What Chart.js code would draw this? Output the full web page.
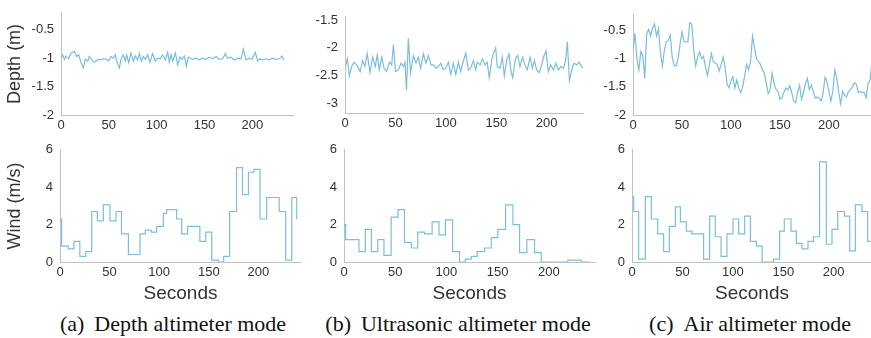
<!DOCTYPE html>
<html>
<head>
<meta charset="utf-8">
<script src="https://cdn.jsdelivr.net/npm/chart.js@4.4.0/dist/chart.umd.min.js"></script>
<style>
  body { margin: 0; width: 871px; height: 338px; background: #fff; position: relative; overflow: hidden; }
  .panel { position: absolute; }
  .panel canvas { display: block; }
  .cap { position: absolute; top: 312px; line-height: 24px; transform: translateX(-50%); white-space: nowrap;
         font-family: "Liberation Serif", "Times New Roman", serif; font-size: 22px; color: #111; }
  .cap b { font-weight: normal; margin-right: 10px; }
</style>
</head>
<body>
<div class="cap" style="left:173px"><b>(a)</b>Depth altimeter mode</div>
<div class="cap" style="left:458px"><b>(b)</b>Ultrasonic altimeter mode</div>
<div class="cap" style="left:750px"><b>(c)</b>Air altimeter mode</div>
<script>
// tick labels
const X_TICKS = [0, 50, 100, 150, 200];
const DEPTH_TICKS_A = [-2, -1.5, -1, -0.5];
const DEPTH_TICKS_B = [-3, -2.5, -2, -1.5];
const DEPTH_TICKS_C = [-2, -1.5, -1, -0.5];
const WIND_TICKS = [0, 2, 4, 6];

// (a) depth altimeter mode: depth (m)
const depthA_t = [0, 1.7, 3.5, 5.2, 8, 10.5, 14, 16.4, 18.5, 21, 23.3, 25.4, 27.9, 29.6, 32.4, 34.8, 38.3, 41.8, 45.3, 47.7,
  49.8, 52.3, 54.7, 56.8, 59.2, 61, 62.7, 65, 67.2, 68.6, 70.7, 73.2, 75.6, 77.7, 80.1, 81.9, 84, 86, 88.2, 90.6,
  93, 95.8, 98.6, 101, 103.5, 106.3, 109, 111.5, 113.2, 115, 116.7, 119.5, 122, 124.4, 126.5, 129, 131, 133, 135.5, 137.6,
  141, 144.6, 148, 151.6, 155, 158.5, 162, 165.5, 169, 171.8, 174.2, 177.7, 181.2, 184.7, 188.2, 190.5, 193.4, 196.2, 199.6, 203.1,
  205.6, 208, 210.8, 214.3, 217.8, 221.3, 224.7, 228.2, 231, 232.8];
const depthA_v = [-1.0, -0.94, -1.02, -0.96, -1.01, -0.91, -0.88, -0.97, -0.94, -1.08, -1.17, -1.02, -1.05, -0.97, -1.03, -1.07, -1.03, -1.02, -1.01, -1.02,
  -1.05, -0.97, -1.0, -0.94, -1.1, -1.17, -1.02, -0.94, -1.05, -0.94, -1.08, -0.91, -1.05, -0.96, -1.03, -0.91, -1.05, -0.97, -1.02, -0.94,
  -1.07, -0.92, -1.05, -1.0, -1.01, -0.94, -1.03, -0.9, -1.07, -0.94, -1.05, -0.91, -1.12, -0.98, -1.02, -0.96, -1.14, -0.98, -1.0, -1.02,
  -1.0, -1.03, -1.0, -1.02, -0.98, -1.01, -0.97, -1.02, -1.01, -0.92, -1.0, -0.98, -1.03, -1.0, -1.01, -0.84, -1.03, -1.0, -1.02, -0.9,
  -1.05, -1.01, -1.03, -1.01, -1.03, -1.0, -1.02, -1.01, -0.96, -1.03];

// (b) ultrasonic altimeter mode: depth (m)
const depthB_t = [0, 2.3, 4.3, 6.6, 9, 11.6, 15, 17.5, 19.8, 22, 24.8, 27.4, 30, 32, 34, 36.4, 38.7, 41.3, 44, 46.3,
  48, 50, 53, 55.5, 58, 59.5, 61, 62.8, 65, 67.8, 70.4, 72.7, 75, 77.7, 80.3, 82.6, 85.3, 87.6, 90.2, 92.6,
  95, 97.5, 99.8, 102.5, 104.8, 107.4, 109.8, 112.4, 114.7, 116.7, 119.7, 122.3, 124.6, 127.3, 129.6, 131.2, 134, 136.2, 138.8, 141,
  143, 145.5, 147, 149.4, 151, 153.7, 156, 158, 160.3, 162.6, 164.6, 166.3, 169, 171.2, 173.5, 176, 178.5, 180.8, 183.5, 185.8,
  187.8, 190, 192.7, 195, 197.4, 199.3, 201.7, 204, 206.6, 209, 211.6, 213.9, 216.5, 218.8, 220.5, 222.5, 224.8, 227, 229.8, 232,
  234.7, 236.4];
const depthB_v = [-2.37, -2.2, -2.51, -2.34, -2.26, -2.31, -2.43, -2.23, -2.34, -2.1, -2.45, -2.17, -2.34, -2.13, -2.4, -2.17, -2.37, -2.43, -2.26, -2.31,
  -1.94, -2.43, -2.4, -2.28, -2.34, -2.26, -2.77, -1.83, -2.45, -2.14, -2.28, -2.17, -2.37, -2.11, -2.28, -2.14, -2.31, -2.31, -2.37, -2.34,
  -2.28, -2.4, -2.37, -2.26, -2.48, -2.28, -2.48, -2.26, -2.43, -2.28, -2.1, -2.4, -2.37, -2.23, -2.4, -2.26, -2.31, -2.2, -2.31, -2.26,
  -2.54, -2.23, -2.11, -2.0, -2.34, -2.37, -2.17, -2.51, -2.23, -2.11, -2.43, -2.54, -2.2, -2.14, -2.34, -2.17, -2.31, -2.4, -2.17, -2.37,
  -2.23, -2.4, -2.45, -2.31, -2.14, -2.06, -2.43, -2.31, -2.4, -2.28, -2.4, -2.34, -2.37, -2.23, -1.89, -2.6, -2.4, -2.28, -2.31, -2.26,
  -2.34, -2.37];

// (c) air altimeter mode: depth (m), one reading every 2 s
const DEPTH_C_STEP = 2;
const depthC_v = [-0.85, -0.55, -1.0, -1.2, -0.87, -0.95, -1.35, -0.55, -0.48, -0.6, -0.45, -0.38, -0.6, -0.47, -0.9, -1.13, -0.85, -0.7, -0.68, -0.58,
  -0.97, -1.12, -1.13, -1.0, -0.75, -0.52, -0.69, -0.7, -0.7, -0.36, -0.38, -0.85, -1.13, -0.97, -0.88, -1.0, -0.96, -1.15, -1.3, -1.1,
  -0.91, -1.05, -1.08, -1.1, -1.22, -1.1, -0.97, -1.15, -1.45, -1.52, -1.4, -1.32, -1.52, -1.38, -1.52, -1.6, -1.5, -1.3, -1.1, -1.2,
  -1.05, -0.6, -0.8, -1.0, -1.05, -1.1, -1.19, -1.25, -1.43, -1.62, -1.55, -1.26, -1.45, -1.54, -1.58, -1.72, -1.7, -1.6, -1.52, -1.55,
  -1.48, -1.6, -1.75, -1.78, -1.6, -1.47, -1.72, -1.6, -1.45, -1.35, -1.55, -1.47, -1.58, -1.7, -1.68, -1.7, -1.75, -1.62, -1.33, -1.41,
  -1.58, -1.75, -1.58, -1.2, -1.35, -1.6, -1.8, -1.58, -1.65, -1.68, -1.58, -1.55, -1.5, -1.43, -1.45, -1.6, -1.58, -1.6, -1.6, -1.69,
  -1.44, -1.38, -1.02];

// wind (m/s), step start times and levels
const windA_t = [0, 1.7, 8.4, 14, 20, 26, 32, 37.6, 43.7, 50.4, 56.5, 62, 69, 80.7, 86, 92, 97.5, 104.2, 107.6, 117.6,
  122.7, 128.7, 141, 147, 153, 159.7, 165, 171, 178, 184, 190, 195.6, 201.7, 208.4, 221, 227.6, 233.7, 238.7];
const windA_v = [2.3, 0.85, 0.7, 1.1, 0.3, 0.55, 2.7, 2.2, 3.05, 2.2, 2.7, 1.5, 0.4, 1.5, 1.7, 1.6, 1.9, 2.6, 2.8, 2.3,
  1.5, 1.9, 1.1, 1.6, 0.1, 0.0, 0.3, 2.7, 5.05, 3.6, 4.8, 4.95, 2.3, 3.45, 2.7, 0.1, 3.45, 2.3];

const windB_t = [0, 1.6, 14.6, 20.8, 26.7, 33, 39, 46, 52.7, 59, 65.7, 72, 78.7, 86, 92.7, 99, 106, 112.8, 118.4, 124.2,
  130, 137.2, 143.7, 150.2, 157.7, 164.9, 171.4, 178.5, 186, 192.5, 218.5, 231.5, 240];
const windB_v = [2.0, 1.2, 0.55, 1.75, 0.55, 1.2, 0.35, 2.4, 2.8, 1.05, 0.75, 1.6, 1.5, 2.15, 1.45, 2.25, 0.55, 0.0, 0.15, 0.3,
  0.55, 0.75, 1.3, 1.75, 3.05, 2.0, 0.5, 1.2, 0.5, 0.0, 0.1, 0.0, 0.0];

const windC_t = [0, 1.7, 6.6, 13.2, 19.2, 25.5, 31.4, 37, 43, 48, 53.9, 59.5, 71, 77, 82.6, 88.3, 94.2, 100.2, 105.8, 111.7,
  117.4, 123.3, 129, 140.5, 146.4, 151, 157.7, 163, 168.6, 174.5, 180, 186, 192.7, 198.3, 204, 210.6, 215.9, 221.5, 228, 233.7, 238];
const windC_v = [3.5, 2.7, 0.15, 3.5, 2.3, 1.5, 0.55, 1.9, 2.95, 2.15, 1.65, 1.5, 0.15, 2.45, 1.35, 0.3, 1.5, 2.3, 1.5, 2.45,
  1.1, 0.85, 0.0, 0.15, 1.65, 2.3, 1.65, 1.0, 0.7, 1.1, 1.35, 5.35, 0.95, 1.75, 2.7, 2.45, 0.6, 3.05, 2.7, 1.1, 1.1];

const LINE = '#7bbee0';
const AXIS = '#c2c2c2';
const TEXT = '#333333';
const SANS = '"Liberation Sans", Arial, sans-serif';

function points(ts, vs) {
  const n = Math.min(ts.length, vs.length);
  const out = [];
  for (let i = 0; i < n; i++) out.push({ x: ts[i], y: vs[i] });
  return out;
}

function panel(box, data, o) {
  const padT = 10, padR = 6;
  const w = o.yW + (box.right - box.left) + padR;
  const h = padT + (box.bottom - box.top) + o.xH;
  const div = document.createElement('div');
  div.className = 'panel';
  div.style.left = (box.left - o.yW) + 'px';
  div.style.top = (box.top - padT) + 'px';
  const cv = document.createElement('canvas');
  cv.width = w;
  cv.height = h;
  div.appendChild(cv);
  document.body.appendChild(div);

  new Chart(cv, {
    type: 'line',
    data: {
      datasets: [{
        data: data,
        borderColor: LINE,
        borderWidth: 1.2,
        pointRadius: 0,
        fill: false,
        tension: 0,
        stepped: !!o.stepped
      }]
    },
    options: {
      responsive: false,
      animation: false,
      devicePixelRatio: 1,
      layout: { padding: { top: padT, right: padR, left: 0, bottom: 0 } },
      plugins: { legend: { display: false }, tooltip: { enabled: false } },
      scales: {
        x: {
          type: 'linear',
          min: 0,
          max: o.xMax,
          grid: { display: false, drawTicks: false },
          border: { display: true, color: AXIS, width: 1 },
          ticks: { color: TEXT, font: { family: SANS, size: 13 }, padding: 3, maxRotation: 0, autoSkip: false,
                   callback: v => String(v) },
          afterBuildTicks: s => { s.ticks = X_TICKS.map(v => ({ value: v })); },
          afterFit: s => { s.height = o.xH; },
          title: {
            display: !!o.xTitle,
            text: o.xTitle || '',
            color: TEXT,
            font: { family: SANS, size: 19 },
            padding: { top: 0, bottom: 3 }
          }
        },
        y: {
          type: 'linear',
          min: o.yMin,
          max: o.yMax,
          grid: { display: false, drawTicks: false },
          border: { display: true, color: AXIS, width: 1 },
          ticks: { color: TEXT, font: { family: SANS, size: 13 }, padding: 7, autoSkip: false,
                   callback: v => String(v) },
          afterBuildTicks: s => { s.ticks = o.yTicks.map(v => ({ value: v })); },
          afterFit: s => { s.width = o.yW; },
          title: {
            display: !!o.yTitle,
            text: o.yTitle || '',
            color: TEXT,
            font: { family: SANS, size: 18 },
            padding: { top: 4, bottom: 0 }
          }
        }
      }
    }
  });
}

const depthC_t = depthC_v.map((_, i) => i * DEPTH_C_STEP);

// top row: depth
panel({ left: 61, top: 8, right: 293, bottom: 115 }, points(depthA_t, depthA_v),
  { yW: 61, xH: 25, xMax: 242.5, yMin: -2, yMax: -0.2, yTicks: DEPTH_TICKS_A, yTitle: 'Depth (m)' });
panel({ left: 345, top: 12, right: 583, bottom: 113 }, points(depthB_t, depthB_v),
  { yW: 45, xH: 25, xMax: 236, yMin: -3.18, yMax: -1.44, yTicks: DEPTH_TICKS_B });
panel({ left: 633, top: 10, right: 874, bottom: 115 }, points(depthC_t, depthC_v),
  { yW: 45, xH: 25, xMax: 246, yMin: -2, yMax: -0.22, yTicks: DEPTH_TICKS_C });

// bottom row: wind
panel({ left: 60, top: 145, right: 301, bottom: 262 }, points(windA_t, windA_v),
  { yW: 60, xH: 46, xMax: 243, yMin: 0, yMax: 6, yTicks: WIND_TICKS, yTitle: 'Wind (m/s)', xTitle: 'Seconds', stepped: true });
panel({ left: 344, top: 145, right: 595, bottom: 262 }, points(windB_t, windB_v),
  { yW: 45, xH: 46, xMax: 245, yMin: 0, yMax: 6, yTicks: WIND_TICKS, xTitle: 'Seconds', stepped: true });
panel({ left: 632, top: 145, right: 872, bottom: 262 }, points(windC_t, windC_v),
  { yW: 45, xH: 46, xMax: 238, yMin: 0, yMax: 6, yTicks: WIND_TICKS, xTitle: 'Seconds', stepped: true });
</script>
</body>
</html>
